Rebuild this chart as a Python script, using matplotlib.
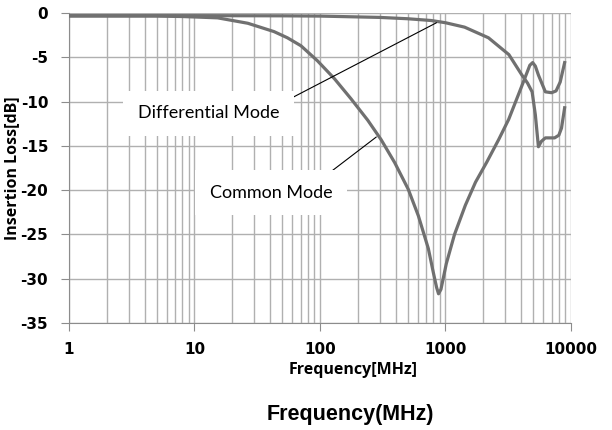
import numpy as np
import matplotlib
matplotlib.use("Agg")
import matplotlib.pyplot as plt
from matplotlib.ticker import LogLocator, FixedLocator, NullFormatter

# Insertion loss (frequency in MHz, loss in dB)
diff_freq = [1, 10, 50, 100, 300, 500, 770, 1000, 1420, 2200, 3200, 4060, 4500,
             4900, 5200, 5500, 5800, 6250, 7400, 8000, 8400, 8900]
diff_db = [-0.3, -0.3, -0.32, -0.35, -0.5, -0.65, -0.85, -1.1, -1.6, -2.8, -4.7,
           -7.0, -7.9, -8.9, -11.5, -15.1, -14.5, -14.1, -14.1, -13.8, -13.0, -10.7]

cm_freq = [1, 5, 8, 10, 15.3, 26.6, 43, 55, 70.5, 95.5, 130, 177, 240, 307, 394,
           505, 608, 730, 800, 850, 880, 920, 1015, 1180, 1440, 1735, 2130, 2660,
           3190, 3840, 4330, 4700, 4950, 5200, 5500, 6250, 7000, 7600, 8200, 8900]
cm_db = [-0.35, -0.35, -0.4, -0.45, -0.55, -1.16, -2.1, -2.8, -3.7, -5.4, -7.4,
         -9.7, -12.1, -14.3, -16.9, -19.9, -22.9, -26.6, -29.3, -31.0, -31.7, -31.2,
         -28.3, -25.0, -21.7, -19.1, -16.85, -14.26, -12.0, -9.1, -7.2, -5.9, -5.6,
         -6.0, -7.0, -8.9, -9.0, -8.8, -7.8, -5.6]

y_ticks = [0, -5, -10, -15, -20, -25, -30, -35]
x_ticks = [1, 10, 100, 1000, 10000]

LINE = "#707070"
GRID = "#b0b0b0"

plt.rcParams["font.family"] = "DejaVu Sans"
plt.rcParams["font.weight"] = "bold"
plt.rcParams["font.size"] = 11

fig = plt.figure(figsize=(6.12, 4.30), dpi=100)
ax = fig.add_axes([0.1127, 0.2488, 0.8203, 0.7210])

ax.plot(diff_freq, diff_db, color=LINE, lw=2.3, zorder=3)
ax.plot(cm_freq, cm_db, color=LINE, lw=2.3, zorder=3)

ax.set_xscale("log")
ax.set_xlim(1, 10000)
ax.set_ylim(-35, 0)
ax.xaxis.set_major_locator(FixedLocator(x_ticks))
ax.xaxis.set_minor_locator(LogLocator(base=10, subs=np.arange(2, 10)))
ax.xaxis.set_minor_formatter(NullFormatter())
ax.set_xticklabels([str(t) for t in x_ticks])
ax.set_yticks(y_ticks)
ax.set_yticklabels([str(t) for t in y_ticks])

ax.grid(True, which="major", color=GRID, lw=1.0, zorder=0)
ax.grid(True, which="minor", axis="x", color=GRID, lw=1.0, zorder=0)
ax.tick_params(axis="both", which="major", length=6, color="#8c8c8c")
ax.tick_params(axis="y", pad=9)
ax.tick_params(axis="x", pad=8)
ax.tick_params(axis="x", which="minor", length=0)
for s in ("top", "right"):
    ax.spines[s].set_visible(False)
for s in ("left", "bottom"):
    ax.spines[s].set_color("#8c8c8c")

ax.set_ylabel("Insertion Loss[dB]", family="Open Sans", weight="bold", fontsize=11.5)
ax.yaxis.set_label_coords(-0.098, 0.50)
ax.set_xlabel("Frequency[MHz]", family="Open Sans", weight="bold", fontsize=11.5)
ax.xaxis.set_label_coords(0.566, -0.125)

box = dict(boxstyle="square,pad=0.8", facecolor="white", edgecolor="none")
ax.annotate("Differential Mode", xy=(848, -1.1), xytext=(12.9, -11.3),
            ha="center", va="center", family="Lato", weight="normal", fontsize=13,
            bbox=box, zorder=4,
            arrowprops=dict(arrowstyle="-", color="black", lw=0.8,
                            shrinkA=0, shrinkB=0, relpos=(0.97, 0.9)))
ax.annotate("Common Mode", xy=(281, -14.0), xytext=(40.6, -20.3),
            ha="center", va="center", family="Lato", weight="normal", fontsize=13,
            bbox=box, zorder=4,
            arrowprops=dict(arrowstyle="-", color="black", lw=0.8,
                            shrinkA=0, shrinkB=0, relpos=(0.85, 1.0)))

fig.text(0.572, 0.035, "Frequency(MHz)", ha="center", va="center",
         family="Liberation Sans", weight="bold", fontsize=15.5)

fig.savefig("out.png", dpi=100)
